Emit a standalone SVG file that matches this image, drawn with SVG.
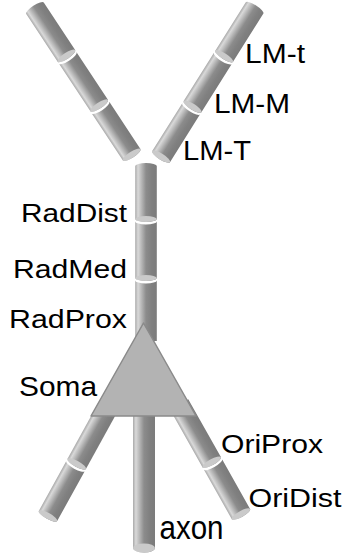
<svg xmlns="http://www.w3.org/2000/svg" width="344" height="559" viewBox="0 0 344 559">
  <defs>
    <!-- shading across a cylinder: lit on the local -x side -->
    <linearGradient id="cyl" x1="0" y1="0" x2="1" y2="0">
      <stop offset="0" stop-color="#a9a9a9"/>
      <stop offset="0.13" stop-color="#d9d9d9"/>
      <stop offset="0.5" stop-color="#8c8c8c"/>
      <stop offset="0.75" stop-color="#808080"/>
      <stop offset="1" stop-color="#7b7b7b"/>
    </linearGradient>
  </defs>
  <style>
    .body { fill: url(#cyl); }
    .face { fill: #cacaca; }
    .soma { fill: #b3b3b3; stroke: #8a8a8a; stroke-width: 1.5; stroke-linejoin: round; }
    .lbl { font-family: "Liberation Sans", Arial, sans-serif; fill: #000; }
  </style>

  <!-- left apical tuft (unlabelled) -->
  <g id="apical-left" transform="translate(35,8.3) rotate(-33.42)">
    <path class="body" d="M-10.5,0 A10.5,3 0 0 1 10.5,0 V57 A10.5,3 0 0 1 -10.5,57 Z"/>
    <ellipse class="face" cx="0" cy="57" rx="10.5" ry="3"/>
    <path class="body" d="M-10.5,59.5 A10.5,3 0 0 0 10.5,59.5 V116.5 A10.5,3 0 0 1 -10.5,116.5 Z"/>
    <ellipse class="face" cx="0" cy="116.5" rx="10.5" ry="3"/>
    <path class="body" d="M-10.5,119 A10.5,3 0 0 0 10.5,119 V175.5 A10.5,3 0 0 1 -10.5,175.5 Z"/>
    <ellipse class="face" cx="0" cy="175.5" rx="10.5" ry="3"/>
  </g>

  <!-- right apical tuft: lacunosum-moleculare compartments -->
  <g id="LM-t">
    <g transform="translate(254.5,8) rotate(32.15)">
      <path class="body" d="M-10.5,0 A10.5,3 0 0 1 10.5,0 V57 A10.5,3 0 0 1 -10.5,57 Z"/>
      <ellipse class="face" cx="0" cy="57" rx="10.5" ry="3"/>
    </g>
    <text class="lbl" x="245" y="63.3" font-size="27.5" textLength="60" lengthAdjust="spacingAndGlyphs">LM-t</text>
  </g>
  <g id="LM-M">
    <g transform="translate(254.5,8) rotate(32.15)">
      <path class="body" d="M-10.5,59.5 A10.5,3 0 0 0 10.5,59.5 V116.5 A10.5,3 0 0 1 -10.5,116.5 Z"/>
      <ellipse class="face" cx="0" cy="116.5" rx="10.5" ry="3"/>
    </g>
    <text class="lbl" x="214" y="112.7" font-size="27" textLength="76" lengthAdjust="spacingAndGlyphs">LM-M</text>
  </g>
  <g id="LM-T">
    <g transform="translate(254.5,8) rotate(32.15)">
      <path class="body" d="M-10.5,119 A10.5,3 0 0 0 10.5,119 V175.5 A10.5,3 0 0 1 -10.5,175.5 Z"/>
      <ellipse class="face" cx="0" cy="175.5" rx="10.5" ry="3"/>
    </g>
    <text class="lbl" x="183" y="160" font-size="28" textLength="68" lengthAdjust="spacingAndGlyphs">LM-T</text>
  </g>

  <!-- radiatum trunk -->
  <g id="RadDist">
    <path class="body" transform="translate(146,166)" d="M-10.8,0 A10.8,3 0 0 1 10.8,0 V53 A10.8,3 0 0 1 -10.8,53 Z"/>
    <ellipse class="face" cx="146" cy="219" rx="10.8" ry="3"/>
    <text class="lbl" x="21" y="221.7" font-size="25.5" textLength="106" lengthAdjust="spacingAndGlyphs">RadDist</text>
  </g>
  <g id="RadMed">
    <path class="body" transform="translate(146,166)" d="M-10.8,55.5 A10.8,3 0 0 0 10.8,55.5 V112 A10.8,3 0 0 1 -10.8,112 Z"/>
    <ellipse class="face" cx="146" cy="278" rx="10.8" ry="3"/>
    <text class="lbl" x="13" y="278.3" font-size="25.5" textLength="114" lengthAdjust="spacingAndGlyphs">RadMed</text>
  </g>
  <g id="RadProx">
    <path class="body" transform="translate(146,166)" d="M-10.8,114.5 A10.8,3 0 0 0 10.8,114.5 V175 H-10.8 Z"/>
    <text class="lbl" x="9" y="328.3" font-size="25.5" textLength="118" lengthAdjust="spacingAndGlyphs">RadProx</text>
  </g>

  <!-- oriens, left branch (unlabelled) -->
  <g id="oriens-left" transform="translate(104,414.4) rotate(28.87)">
    <path class="body" d="M-10.5,-10 H10.5 V56.5 A10.5,3 0 0 1 -10.5,56.5 Z"/>
    <ellipse class="face" cx="0" cy="56.5" rx="10.5" ry="3"/>
    <path class="body" d="M-10.5,59 A10.5,3 0 0 0 10.5,59 V116 A10.5,3 0 0 1 -10.5,116 Z"/>
    <ellipse class="face" cx="0" cy="116" rx="10.5" ry="3"/>
  </g>

  <!-- oriens, right branch -->
  <g id="OriProx">
    <g transform="translate(184,413) rotate(-29.4)">
      <path class="body" d="M-10.5,-10 H10.5 V56.5 A10.5,3 0 0 1 -10.5,56.5 Z"/>
      <ellipse class="face" cx="0" cy="56.5" rx="10.5" ry="3"/>
    </g>
    <text class="lbl" x="221" y="453.3" font-size="25.5" textLength="102" lengthAdjust="spacingAndGlyphs">OriProx</text>
  </g>
  <g id="OriDist">
    <g transform="translate(184,413) rotate(-29.4)">
      <path class="body" d="M-10.5,59 A10.5,3 0 0 0 10.5,59 V116 A10.5,3 0 0 1 -10.5,116 Z"/>
      <ellipse class="face" cx="0" cy="116" rx="10.5" ry="3"/>
    </g>
    <text class="lbl" x="248.5" y="507.3" font-size="26" textLength="93" lengthAdjust="spacingAndGlyphs">OriDist</text>
  </g>

  <!-- axon -->
  <g id="axon">
    <path class="body" transform="translate(144,400)" d="M-11,0 H11 V148 A11,4.5 0 0 1 -11,148 Z"/>
    <ellipse class="face" cx="144" cy="548" rx="11" ry="4.5"/>
    <text class="lbl" x="159.5" y="539" font-size="33" textLength="64" lengthAdjust="spacingAndGlyphs">axon</text>
  </g>

  <!-- soma -->
  <g id="Soma">
    <polygon class="soma" points="143.5,323 196,416 91,416"/>
    <text class="lbl" x="19" y="396" font-size="28" textLength="78" lengthAdjust="spacingAndGlyphs">Soma</text>
  </g>
</svg>
